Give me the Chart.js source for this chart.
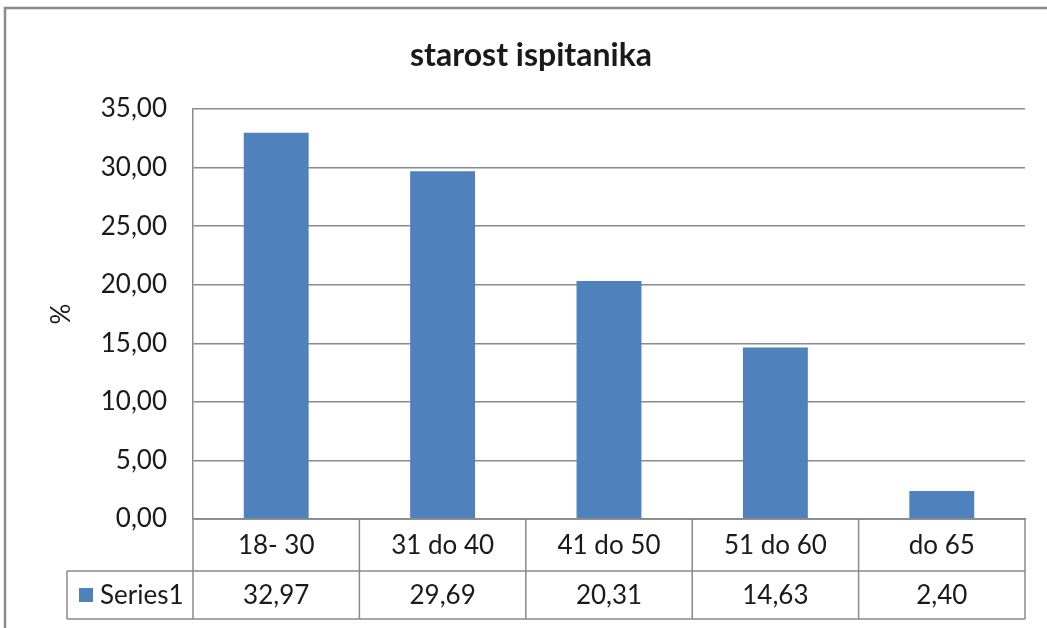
<!DOCTYPE html>
<html>
<head>
<meta charset="utf-8">
<title>starost ispitanika</title>
<script src="https://cdn.jsdelivr.net/npm/chart.js@4.4.1/dist/chart.umd.min.js"></script>
<style>
  html, body { margin: 0; padding: 0; background: #ffffff; }
  #wrap { width: 1047px; height: 628px; }
</style>
</head>
<body>
<div id="wrap"><canvas id="chart" width="1047" height="628"></canvas></div>
<script>
// Age groups of respondents and their share in percent
const categories = ['18- 30', '31 do 40', '41 do 50', '51 do 60', 'do 65'];
const seriesName = 'Series1';
const seriesValues = [32.97, 29.69, 20.31, 14.63, 2.40];
const chartTitle = 'starost ispitanika';
const yAxisTitle = '%';

const FONT = 'Lato, "Noto Sans", sans-serif';
const TEXT_COLOR = '#1a1a1a';
const LINE_COLOR = '#8a8a8a';
const BAR_COLOR = '#4f81bd';

const fmt = v => v.toFixed(2).replace('.', ',');

// Outer frame of the chart object
const framePlugin = {
  id: 'frame',
  beforeDraw(chart) {
    const ctx = chart.ctx;
    ctx.save();
    ctx.strokeStyle = '#8c8c8c';
    ctx.lineWidth = 2.5;
    ctx.strokeRect(5, 8, chart.width + 20, chart.height + 20);
    ctx.restore();
  }
};

// Center the title across the whole frame rather than the padded layout box
const titleSpanPlugin = {
  id: 'titleSpan',
  afterLayout(chart) {
    const t = chart.titleBlock;
    if (t) { t.left = 0; t.right = chart.width + 15; }
  }
};

// Data table under the plot: category row, then series row with legend key
const dataTablePlugin = {
  id: 'dataTable',
  afterDraw(chart) {
    const ctx = chart.ctx;
    const xs = chart.scales.x;
    const n = categories.length;
    const left = xs.left, right = xs.right;
    const cw = (right - left) / n;
    const row1Top = chart.chartArea.bottom;
    const row1Bot = row1Top + 52;
    const row2Bot = row1Bot + 48;
    const keyLeft = 67;

    ctx.save();
    ctx.strokeStyle = LINE_COLOR;
    ctx.lineWidth = 1.5;
    ctx.beginPath();
    // horizontal rules
    ctx.moveTo(left, row1Top); ctx.lineTo(right, row1Top);
    ctx.moveTo(keyLeft, row1Bot); ctx.lineTo(right, row1Bot);
    ctx.moveTo(keyLeft, row2Bot); ctx.lineTo(right, row2Bot);
    // vertical rules
    ctx.moveTo(keyLeft, row1Bot); ctx.lineTo(keyLeft, row2Bot);
    for (let i = 0; i <= n; i++) {
      const x = left + i * cw;
      ctx.moveTo(x, row1Top); ctx.lineTo(x, row2Bot);
    }
    ctx.stroke();

    ctx.fillStyle = TEXT_COLOR;
    ctx.font = '26px ' + FONT;
    ctx.textAlign = 'center';
    ctx.textBaseline = 'middle';
    for (let i = 0; i < n; i++) {
      const cx = xs.getPixelForValue(i);
      ctx.fillText(categories[i], cx, (row1Top + row1Bot) / 2 + 1);
      ctx.fillText(fmt(seriesValues[i]), cx, (row1Bot + row2Bot) / 2 + 1);
    }

    // legend key
    const rowMid = (row1Bot + row2Bot) / 2;
    ctx.fillStyle = BAR_COLOR;
    ctx.fillRect(79, rowMid - 7, 14, 14);
    ctx.fillStyle = TEXT_COLOR;
    ctx.textAlign = 'left';
    ctx.fillText(seriesName, 100, rowMid + 1);
    ctx.restore();
  }
};

new Chart(document.getElementById('chart'), {
  type: 'bar',
  data: {
    labels: categories,
    datasets: [{
      label: seriesName,
      data: seriesValues,
      backgroundColor: BAR_COLOR,
      borderWidth: 0,
      categoryPercentage: 1,
      barPercentage: 0.39
    }]
  },
  options: {
    responsive: false,
    devicePixelRatio: 1,
    animation: false,
    layout: { padding: { left: 0, right: 22, top: 0, bottom: 0 } },
    plugins: {
      legend: { display: false },
      tooltip: { enabled: false },
      title: {
        display: true,
        text: chartTitle,
        color: TEXT_COLOR,
        font: { family: FONT, size: 32, weight: 'bold', lineHeight: 1.2 },
        padding: { top: 36, bottom: 34.6 }
      }
    },
    scales: {
      x: {
        ticks: { display: false },
        grid: { display: false, drawTicks: false },
        border: { display: true, color: LINE_COLOR, width: 1.5 },
        afterFit(scale) { scale.height = 109; }
      },
      y: {
        min: 0,
        max: 35,
        ticks: {
          stepSize: 5,
          padding: 26,
          color: TEXT_COLOR,
          font: { family: FONT, size: 26 },
          callback: v => fmt(v)
        },
        grid: { color: LINE_COLOR, lineWidth: 1.5, drawTicks: false },
        border: { display: true, color: LINE_COLOR, width: 1.5 },
        title: {
          display: true,
          text: yAxisTitle,
          color: TEXT_COLOR,
          font: { family: FONT, size: 26 },
          padding: { top: 46, bottom: 0 }
        },
        afterFit(scale) { scale.width = 193; }
      }
    }
  },
  plugins: [framePlugin, titleSpanPlugin, dataTablePlugin]
});
</script>
</body>
</html>
